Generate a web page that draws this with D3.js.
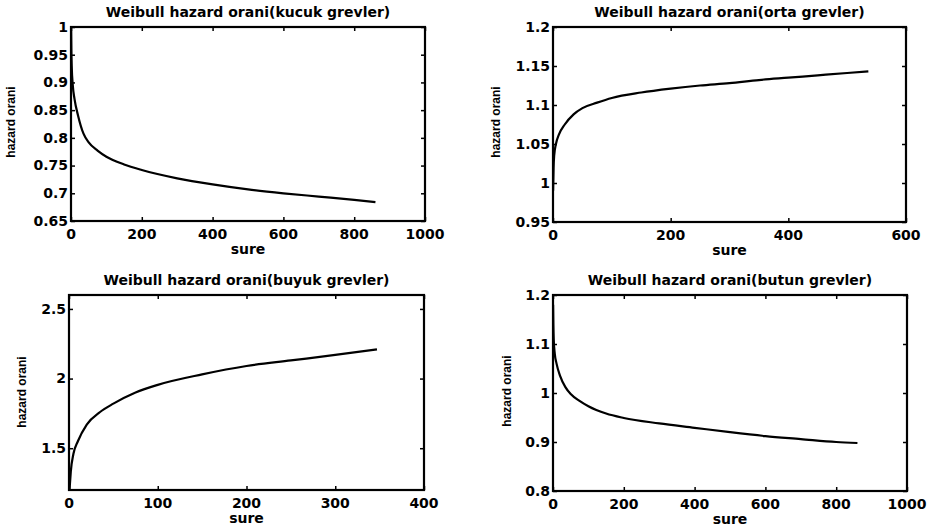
<!DOCTYPE html>
<html>
<head>
<meta charset="utf-8">
<script src="https://cdn.jsdelivr.net/npm/d3@7"></script>
<style>
  body { margin: 0; background: #fff; }
  svg text { fill: #000; }
  .tick-lbl { font-family: "DejaVu Sans", Arial, sans-serif; font-weight: bold; font-size: 14px; }
  .ttl { font-family: "DejaVu Sans", Arial, sans-serif; font-weight: bold; font-size: 14px; }
  .ylbl { font-family: "Liberation Sans Narrow", "Arial Narrow", sans-serif; font-weight: bold; font-size: 12px; }
</style>
</head>
<body>
<svg id="chart" width="943" height="529"></svg>
<script>
// values (sure = duration, hazard orani = hazard rate)
const kucukSure  = [0.3, 1, 2, 5, 10, 20, 35, 50, 75, 100, 150, 200, 300, 400, 500, 600, 700, 800, 860];
const kucukHaz   = [1.0, 0.96, 0.93, 0.895, 0.87, 0.84, 0.808, 0.792, 0.777, 0.766, 0.752, 0.742, 0.727, 0.716, 0.707, 0.700, 0.694, 0.688, 0.684];

const ortaSure   = [0.2, 1, 2, 5, 10, 20, 35, 50, 75, 100, 150, 200, 250, 300, 350, 400, 450, 500, 536];
const ortaHaz    = [0.99, 1.02, 1.035, 1.05, 1.062, 1.075, 1.088, 1.096, 1.103, 1.109, 1.116, 1.121, 1.125, 1.128, 1.132, 1.135, 1.138, 1.141, 1.143];

const buyukSure  = [0.6, 1, 2, 5, 10, 20, 35, 50, 75, 100, 150, 200, 250, 300, 347];
const buyukHaz   = [1.2, 1.24, 1.33, 1.46, 1.55, 1.67, 1.76, 1.82, 1.90, 1.955, 2.03, 2.09, 2.13, 2.17, 2.21];

const butunSure  = [0.3, 1, 2, 5, 10, 20, 35, 50, 75, 100, 150, 200, 300, 400, 500, 600, 700, 800, 860];
const butunHaz   = [1.18, 1.14, 1.11, 1.08, 1.06, 1.035, 1.012, 0.998, 0.984, 0.973, 0.958, 0.949, 0.938, 0.929, 0.92, 0.912, 0.906, 0.9, 0.898];

const titles = ["Weibull hazard orani(kucuk grevler)", "Weibull hazard orani(orta grevler)",
                "Weibull hazard orani(buyuk grevler)", "Weibull hazard orani(butun grevler)"];
const xTicks = [[0, 200, 400, 600, 800, 1000], [0, 200, 400, 600], [0, 100, 200, 300, 400], [0, 200, 400, 600, 800, 1000]];
const yTicks = [[0.65, 0.7, 0.75, 0.8, 0.85, 0.9, 0.95, 1], [0.95, 1, 1.05, 1.1, 1.15, 1.2], [1.5, 2, 2.5], [0.8, 0.9, 1, 1.1, 1.2]];
const xDomains = [[0, 1000], [0, 600], [0, 400], [0, 1000]];
const yDomains = [[0.65, 1], [0.95, 1.2], [1.2, 2.6], [0.8, 1.2]];
const xLabel = "sure";
const yLabel = "hazard orani";

// layout of the four axes boxes
const boxes = [
  { l: 71,  r: 425, t: 27,  b: 221, ylx: 11,  yly: 122 },
  { l: 553, r: 906, t: 27,  b: 222, ylx: 496, yly: 122 },
  { l: 69,  r: 424, t: 295, b: 490, ylx: 22,  yly: 392 },
  { l: 553, r: 907, t: 295, b: 491, ylx: 507, yly: 391 }
];
const series = [[kucukSure, kucukHaz], [ortaSure, ortaHaz], [buyukSure, buyukHaz], [butunSure, butunHaz]];

const svg = d3.select("#chart");
const fmt = d => String(+d.toFixed(2));

boxes.forEach((bx, i) => {
  const x = d3.scaleLinear().domain(xDomains[i]).range([bx.l, bx.r]);
  const y = d3.scaleLinear().domain(yDomains[i]).range([bx.b, bx.t]);
  const g = svg.append("g");

  // inward ticks on all four sides, matlab style
  g.append("g").attr("transform", `translate(0,${bx.b})`)
    .call(d3.axisTop(x).tickValues(xTicks[i]).tickSize(4).tickFormat(""));
  g.append("g").attr("transform", `translate(0,${bx.t})`)
    .call(d3.axisBottom(x).tickValues(xTicks[i]).tickSize(4).tickFormat(""));
  g.append("g").attr("transform", `translate(${bx.l},0)`)
    .call(d3.axisRight(y).tickValues(yTicks[i]).tickSize(4).tickFormat(""));
  g.append("g").attr("transform", `translate(${bx.r},0)`)
    .call(d3.axisLeft(y).tickValues(yTicks[i]).tickSize(4).tickFormat(""));
  g.selectAll(".domain").remove();
  g.selectAll(".tick line").attr("stroke", "#000").attr("stroke-width", 1.5);

  g.append("rect")
    .attr("x", bx.l).attr("y", bx.t)
    .attr("width", bx.r - bx.l).attr("height", bx.b - bx.t)
    .attr("fill", "none").attr("stroke", "#000").attr("stroke-width", 2.2);

  g.selectAll(".xl").data(xTicks[i]).join("text")
    .attr("class", "tick-lbl")
    .attr("x", d => x(d)).attr("y", bx.b + 18)
    .attr("text-anchor", "middle")
    .text(d => d);

  g.selectAll(".yl").data(yTicks[i]).join("text")
    .attr("class", "tick-lbl")
    .attr("x", bx.l - 3).attr("y", d => y(d))
    .attr("dy", "0.35em")
    .attr("text-anchor", "end")
    .text(fmt);

  g.append("text").attr("class", "ttl")
    .attr("x", (bx.l + bx.r) / 2).attr("y", bx.t - 10)
    .attr("text-anchor", "middle")
    .text(titles[i]);

  g.append("text").attr("class", "ttl")
    .attr("x", (bx.l + bx.r) / 2).attr("y", bx.b + 33)
    .attr("text-anchor", "middle")
    .text(xLabel);

  g.append("text").attr("class", "ylbl")
    .attr("transform", `translate(${bx.ylx + 4},${bx.yly}) rotate(-90)`)
    .attr("text-anchor", "middle")
    .text(yLabel);

  const [ts, hs] = series[i];
  const line = d3.line()
    .x((d, k) => x(ts[k]))
    .y(d => y(d))
    .curve(d3.curveMonotoneX);
  g.append("path")
    .datum(hs)
    .attr("d", line)
    .attr("fill", "none")
    .attr("stroke", "#000")
    .attr("stroke-width", 2.2);
});
</script>
</body>
</html>
